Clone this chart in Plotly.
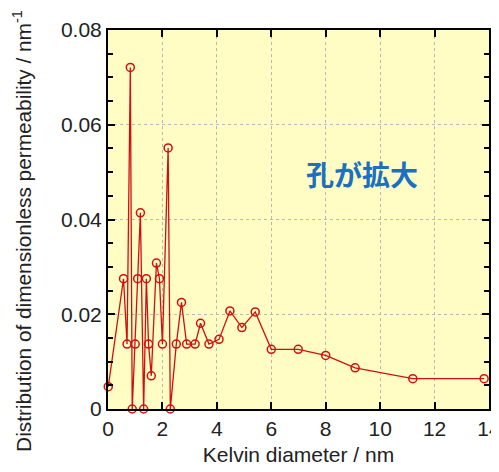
import plotly.graph_objects as go

kelvin_diameter_nm = [0.01, 0.57, 0.70, 0.82, 0.89, 1.00, 1.09, 1.19, 1.31, 1.41, 1.49, 1.59,
                      1.78, 1.89, 2.00, 2.21, 2.29, 2.51, 2.70, 2.89, 3.20, 3.40, 3.71, 4.08,
                      4.48, 4.92, 5.41, 6.00, 6.99, 8.00, 9.08, 11.20, 13.82]
permeability_dist = [0.0047, 0.0275, 0.0137, 0.0721, 0.0, 0.0137, 0.0275, 0.0414, 0.0, 0.0275,
                     0.0137, 0.0070, 0.0308, 0.0275, 0.0137, 0.0551, 0.0, 0.0137, 0.0225, 0.0137,
                     0.0137, 0.0181, 0.0137, 0.0147, 0.0207, 0.0172, 0.0205, 0.0126, 0.0126,
                     0.0113, 0.0087, 0.0064, 0.0064]

x_ticks = [0, 2, 4, 6, 8, 10, 12, 14]
y_ticks = [0, 0.02, 0.04, 0.06, 0.08]
y_tick_labels = ["0", "0.02", "0.04", "0.06", "0.08"]

font_family = "Liberation Sans, Arial, sans-serif"

fig = go.Figure()
fig.add_trace(go.Scatter(
    x=kelvin_diameter_nm, y=permeability_dist, mode="lines+markers",
    line=dict(color="#D01010", width=1.3),
    marker=dict(symbol="circle-open", size=8, color="#D01010", line=dict(width=1.5)),
    showlegend=False, cliponaxis=False,
))

axis_common = dict(
    showline=True, linecolor="black", linewidth=2, mirror="ticks",
    ticks="inside", ticklen=7, tickwidth=2, tickcolor="black",
    showgrid=True, gridcolor="#B8B8B8", griddash="dot", gridwidth=1,
    zeroline=False, automargin=False, ticklabeloverflow="allow",
    tickfont=dict(size=21, color="#222", family=font_family),
)

fig.update_xaxes(
    range=[0, 14], tickvals=x_ticks, ticktext=[str(v) for v in x_ticks],
    title=dict(text="Kelvin diameter / nm", font=dict(size=21, color="#222", family=font_family), standoff=8),
    **axis_common,
)
fig.update_yaxes(
    range=[0, 0.08], tickvals=y_ticks, ticktext=y_tick_labels,
    minor=dict(dtick=0.005, ticks="inside", ticklen=5, tickcolor="black", tickwidth=1.5, showgrid=False),
    **axis_common,
)

# y-axis title as a rotated annotation (sits slightly below the plot centre, as in the reference)
fig.add_annotation(
    x=-0.2257, y=0.47, xref="paper", yref="paper", xanchor="center", yanchor="middle",
    text="Distribution of dimensionless permeability / nm<sup>-1</sup>", textangle=-90,
    showarrow=False, font=dict(size=20.8, color="#222", family=font_family),
)

fig.add_annotation(
    x=9.35, y=0.0495, xref="x", yref="y", text="<b>孔が拡大</b>", showarrow=False,
    font=dict(size=28, color="#1B70C0", family="Noto Sans CJK JP"),
)

# page body has an 8px margin, so the figure is offset by 8px; compensate
fig.update_layout(
    width=491, height=464,
    margin=dict(l=100, r=10, t=22, b=63),
    paper_bgcolor="white", plot_bgcolor="#FFFDC4",
)

fig.write_html("out.html")
